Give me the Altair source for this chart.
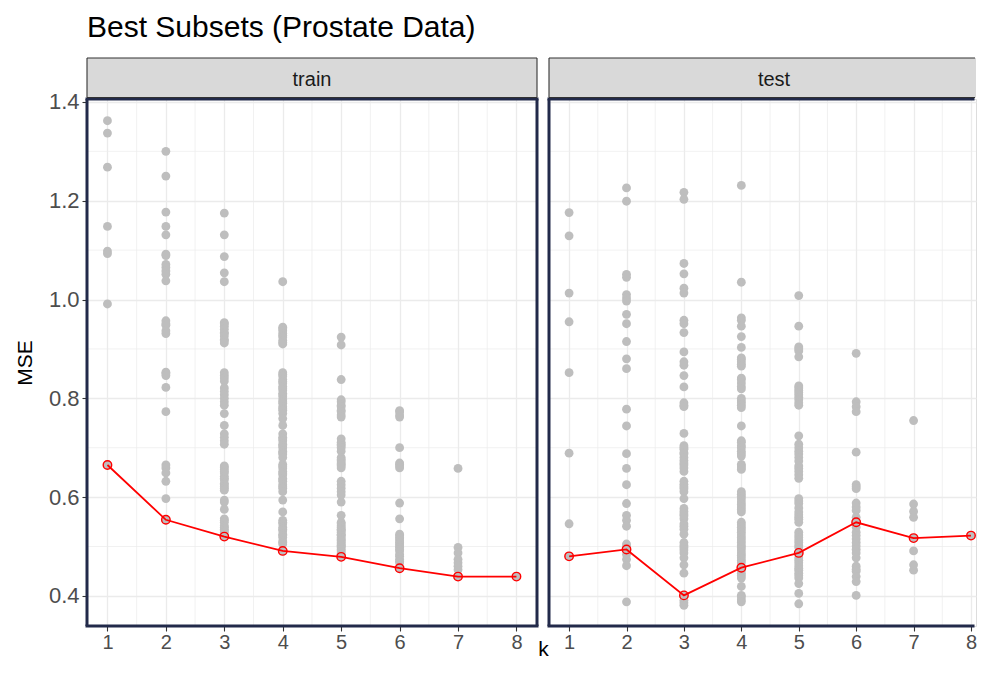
import altair as alt
import pandas as pd

# ---------------- data ----------------
K = [1, 2, 3, 4, 5, 6, 7, 8]
panel_names = ["train", "test"]

train_k1 = [1.362, 1.337, 1.268, 1.148, 1.098, 1.093, 0.991, 0.665]
train_k2 = [1.300, 1.250, 1.177, 1.148, 1.131, 1.092, 1.089, 1.071, 1.065, 1.058,
            1.051, 1.038, 0.957, 0.951, 0.948, 0.937, 0.931, 0.853, 0.850, 0.846,
            0.822, 0.773, 0.665, 0.659, 0.649, 0.632, 0.597, 0.554]
train_k3 = [1.175, 1.131, 1.087, 1.054, 1.036, 0.953, 0.951, 0.946, 0.940, 0.933,
            0.931, 0.926, 0.919, 0.917, 0.912, 0.852, 0.846, 0.841, 0.835, 0.821,
            0.814, 0.807, 0.800, 0.793, 0.786, 0.769, 0.745, 0.728, 0.721, 0.714,
            0.707, 0.663, 0.660, 0.656, 0.652, 0.649, 0.642, 0.638, 0.635, 0.628,
            0.625, 0.621, 0.618, 0.614, 0.594, 0.590, 0.575, 0.556, 0.553, 0.549,
            0.542, 0.539, 0.535, 0.532, 0.529, 0.520]
train_k4 = [1.036, 0.944, 0.941, 0.937, 0.931, 0.927, 0.924, 0.917, 0.913, 0.910,
            0.852, 0.848, 0.845, 0.838, 0.834, 0.831, 0.824, 0.821, 0.817, 0.810,
            0.807, 0.803, 0.797, 0.793, 0.790, 0.783, 0.779, 0.776, 0.769, 0.759,
            0.745, 0.728, 0.721, 0.718, 0.714, 0.707, 0.704, 0.700, 0.693, 0.690,
            0.687, 0.680, 0.666, 0.663, 0.659, 0.652, 0.649, 0.645, 0.638, 0.635,
            0.632, 0.625, 0.621, 0.618, 0.611, 0.594, 0.570, 0.553, 0.549, 0.546,
            0.539, 0.535, 0.532, 0.525, 0.522, 0.518, 0.511, 0.508, 0.505, 0.491]
train_k5 = [0.924, 0.908, 0.838, 0.797, 0.793, 0.786, 0.783, 0.776, 0.773, 0.766,
            0.762, 0.718, 0.711, 0.707, 0.704, 0.700, 0.693, 0.680, 0.676, 0.673,
            0.669, 0.666, 0.663, 0.659, 0.632, 0.625, 0.618, 0.611, 0.604, 0.590,
            0.563, 0.549, 0.546, 0.542, 0.539, 0.535, 0.534, 0.532, 0.529, 0.525,
            0.523, 0.522, 0.518, 0.515, 0.513, 0.511, 0.508, 0.505, 0.502, 0.501,
            0.498, 0.494, 0.491, 0.487, 0.484, 0.479]
train_k6 = [0.775, 0.773, 0.766, 0.762, 0.700, 0.669, 0.666, 0.663, 0.659, 0.588,
            0.556, 0.525, 0.522, 0.518, 0.515, 0.511, 0.508, 0.505, 0.501, 0.498,
            0.494, 0.491, 0.484, 0.480, 0.474, 0.470, 0.467, 0.456]
train_k7 = [0.658, 0.498, 0.487, 0.474, 0.467, 0.460, 0.453, 0.439]
train_k8 = [0.439]

test_k1 = [1.176, 1.129, 1.013, 0.955, 0.852, 0.689, 0.546, 0.480]
test_k2 = [1.226, 1.199, 1.051, 1.045, 1.010, 1.003, 0.997, 0.970, 0.951, 0.915,
           0.880, 0.860, 0.778, 0.744, 0.688, 0.658, 0.625, 0.587, 0.563, 0.553,
           0.541, 0.505, 0.500, 0.494, 0.484, 0.474, 0.461, 0.388]
test_k3 = [1.217, 1.203, 1.073, 1.052, 1.023, 1.013, 0.958, 0.951, 0.933, 0.894,
           0.874, 0.867, 0.846, 0.823, 0.791, 0.786, 0.783, 0.729, 0.704, 0.700,
           0.697, 0.690, 0.687, 0.680, 0.674, 0.669, 0.665, 0.659, 0.652, 0.632,
           0.626, 0.621, 0.617, 0.611, 0.597, 0.577, 0.571, 0.566, 0.562, 0.556,
           0.546, 0.541, 0.535, 0.525, 0.508, 0.502, 0.498, 0.493, 0.487, 0.477,
           0.463, 0.446, 0.401, 0.391, 0.386, 0.381]
test_k4 = [1.231, 1.035, 0.963, 0.958, 0.946, 0.925, 0.903, 0.882, 0.879, 0.874,
           0.869, 0.865, 0.841, 0.838, 0.831, 0.824, 0.819, 0.800, 0.795, 0.791,
           0.786, 0.781, 0.744, 0.714, 0.711, 0.704, 0.700, 0.693, 0.688, 0.683,
           0.666, 0.663, 0.659, 0.656, 0.611, 0.606, 0.601, 0.596, 0.590, 0.585,
           0.580, 0.575, 0.570, 0.549, 0.544, 0.539, 0.534, 0.529, 0.523, 0.518,
           0.513, 0.508, 0.502, 0.498, 0.493, 0.487, 0.482, 0.477, 0.472, 0.467,
           0.457, 0.452, 0.446, 0.441, 0.436, 0.419, 0.401, 0.398, 0.392, 0.388]
test_k5 = [1.008, 0.946, 0.904, 0.900, 0.896, 0.884, 0.825, 0.821, 0.816, 0.812,
           0.807, 0.802, 0.797, 0.791, 0.786, 0.724, 0.707, 0.700, 0.693, 0.687,
           0.680, 0.673, 0.663, 0.658, 0.652, 0.645, 0.638, 0.597, 0.592, 0.587,
           0.578, 0.570, 0.564, 0.559, 0.555, 0.549, 0.529, 0.523, 0.518, 0.513,
           0.508, 0.502, 0.498, 0.487, 0.477, 0.472, 0.467, 0.461, 0.456, 0.452,
           0.446, 0.441, 0.436, 0.425, 0.405, 0.384]
test_k6 = [0.891, 0.793, 0.783, 0.773, 0.691, 0.625, 0.621, 0.617, 0.588, 0.580,
           0.573, 0.559, 0.549, 0.539, 0.529, 0.522, 0.515, 0.508, 0.501, 0.494,
           0.487, 0.477, 0.460, 0.454, 0.450, 0.439, 0.429, 0.401]
test_k7 = [0.755, 0.586, 0.571, 0.559, 0.517, 0.491, 0.463, 0.452]
test_k8 = [0.522]

best_train = [0.665, 0.554, 0.520, 0.491, 0.479, 0.456, 0.439, 0.439]
best_test = [0.480, 0.494, 0.401, 0.457, 0.487, 0.549, 0.517, 0.522]

y_ticks = [0.4, 0.6, 0.8, 1.0, 1.2, 1.4]
x_minor = [1.5, 2.5, 3.5, 4.5, 5.5, 6.5, 7.5]
y_minor = [0.5, 0.7, 0.9, 1.1, 1.3]

# ---------------- styling ----------------
H = 527
FONT = "Liberation Sans"
GRID = "#EBEBEB"
NAVY = "#222A4A"
STRIP_H = 41


def long_df(lists):
    rows = []
    for k, vals in zip(K, lists):
        for v in vals:
            rows.append({"k": k, "mse": v})
    return pd.DataFrame(rows)


def vrule(xpos, y1, y2, color, w):
    return alt.Chart(pd.DataFrame({"a": [0]})).mark_rule(color=color, strokeWidth=w).encode(
        x=alt.value(xpos), y=alt.value(y1), y2=alt.value(y2))


def hrule(ypos, x1, x2, color, w):
    return alt.Chart(pd.DataFrame({"a": [0]})).mark_rule(color=color, strokeWidth=w).encode(
        y=alt.value(ypos), x=alt.value(x1), x2=alt.value(x2))


def panel(name, lists, best, first, W, xmax, right_border):
    xs = alt.Scale(domain=[0.65, xmax], nice=False, zero=False)
    ys = alt.Scale(domain=[0.339, 1.406], nice=False, zero=False)

    xa = dict(values=K, format="d", grid=True, gridColor=GRID, gridWidth=1.3,
              domain=False, tickColor="#333333", tickSize=5, tickWidth=1.1,
              labelColor="#4D4D4D", labelFontSize=20, labelPadding=1, labelFont=FONT,
              labelFlush=False)
    if first:
        xa.update(title="k", titleX=456, titleY=29, titleBaseline="alphabetic",
                  titleFontSize=21, titleFont=FONT, titleFontWeight="normal",
                  titleColor="black")
    else:
        xa.update(title=None)
    if first:
        ya = dict(values=y_ticks, format=".1f", grid=True, gridColor=GRID, gridWidth=1.3,
                  domain=False, tickColor="#333333", tickSize=5, tickWidth=1.1,
                  labelColor="#4D4D4D", labelFontSize=22, labelPadding=3, labelFont=FONT,
                  title="MSE", titleFontSize=21, titleFont=FONT, titleFontWeight="normal",
                  titleColor="black", titlePadding=13)
    else:
        ya = dict(values=y_ticks, grid=True, gridColor=GRID, gridWidth=1.3, domain=False,
                  ticks=False, labels=False, title=None)

    X = alt.X("k:Q", scale=xs, axis=alt.Axis(**xa))
    Y = alt.Y("mse:Q", scale=ys, axis=alt.Axis(**ya))

    one = pd.DataFrame({"name": [name]})
    minor_x = alt.Chart(pd.DataFrame({"k": x_minor})).mark_rule(
        color=GRID, strokeWidth=0.7).encode(x=X)
    minor_y = alt.Chart(pd.DataFrame({"mse": y_minor})).mark_rule(
        color=GRID, strokeWidth=0.7).encode(y=Y)
    pts = alt.Chart(long_df(lists)).mark_circle(
        color="#BEBEBE", size=78, opacity=1).encode(x=X, y=Y)
    bdf = pd.DataFrame({"k": K, "mse": best})
    line = alt.Chart(bdf).mark_line(color="red", strokeWidth=1.8).encode(x=X, y=Y)
    rings = alt.Chart(bdf).mark_point(
        shape="circle", filled=False, color="red", size=72, strokeWidth=1.4,
        opacity=1).encode(x=X, y=Y)

    # facet strip
    strip = alt.Chart(one).mark_rect(fill="#D9D9D9").encode(
        x=alt.value(0), x2=alt.value(W), y=alt.value(-STRIP_H), y2=alt.value(-1.5))
    end = W if right_border else W - 1
    strip_lines = [
        hrule(-STRIP_H, 0, end, "#333333", 1.1),
        hrule(-1.5, 0, end, "#333333", 1.1),
        vrule(0, -STRIP_H, -1.5, "#333333", 1.1),
    ]
    if right_border:
        strip_lines.append(vrule(W, -STRIP_H, -1.5, "#333333", 1.1))
    strip_txt = alt.Chart(one).mark_text(
        font=FONT, fontSize=20, color="#1A1A1A", baseline="middle").encode(
        x=alt.value(225), y=alt.value(-19), text="name:N")

    # panel border
    if right_border:
        border = [
            hrule(0, -1.5, W + 1.5, NAVY, 3),
            hrule(H, -1.5, W + 1.5, NAVY, 3),
            vrule(0, 0, H, NAVY, 3),
            vrule(W, 0, H, NAVY, 3),
        ]
    else:
        border = [
            hrule(0, -1.5, W - 1.5, NAVY, 3),
            hrule(H, -1.5, W - 1.5, NAVY, 3),
            vrule(0, 0, H, NAVY, 3),
        ]

    props = dict(width=W, height=H)
    if first:
        props["title"] = alt.TitleParams(
            "Best Subsets (Prostate Data)", anchor="start", frame="group",
            fontSize=30, font=FONT, fontWeight="normal", color="black",
            baseline="alphabetic", offset=-10)
    layers = [minor_x, minor_y, pts, line, rings] + border + [strip] + strip_lines + [strip_txt]
    return alt.layer(*layers).properties(**props)


train_lists = [train_k1, train_k2, train_k3, train_k4, train_k5, train_k6, train_k7, train_k8]
test_lists = [test_k1, test_k2, test_k3, test_k4, test_k5, test_k6, test_k7, test_k8]

W_TRAIN, W_TEST = 450, 427
chart = alt.hconcat(
    panel(panel_names[0], train_lists, best_train, True, W_TRAIN, 0.65 + W_TRAIN / 58.43, True),
    panel(panel_names[1], test_lists, best_test, False, W_TEST, 0.65 + 7.35 * W_TEST / 422, False),
    spacing=12, bounds="flush",
).properties(
    padding={"left": 5, "top": 4, "right": 0, "bottom": 0}
).configure_view(stroke="transparent").configure(background="white")

chart.save("out.html", embed_options={"renderer": "svg", "actions": False})
